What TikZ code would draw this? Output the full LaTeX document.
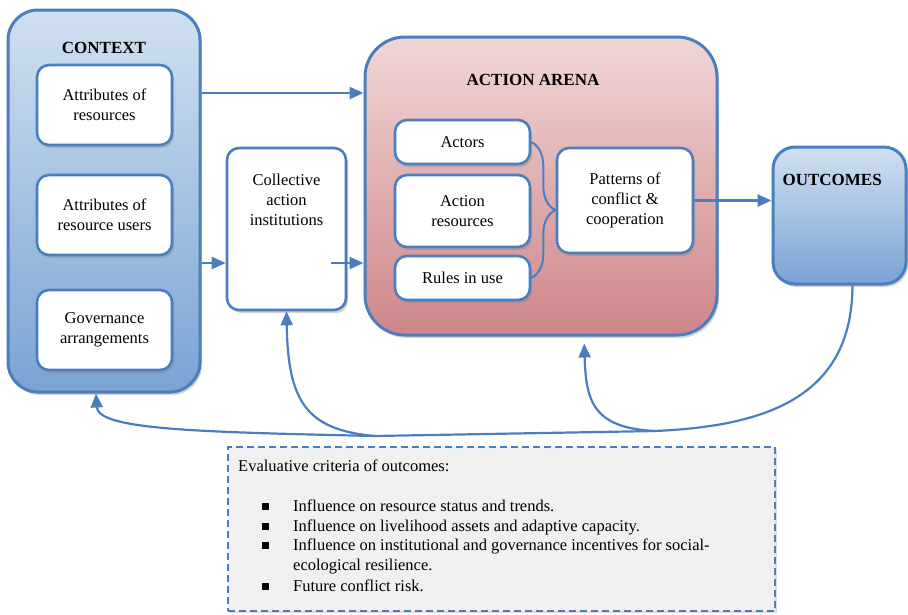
\documentclass[tikz,border=0pt]{standalone}
\usepackage{fontspec}
\setmainfont{Liberation Serif}
\usetikzlibrary{arrows.meta, positioning, shadows, decorations.pathreplacing}

\definecolor{edgeblue}{HTML}{4A7EBF}
\definecolor{ctxtop}{HTML}{D0E0F0}
\definecolor{ctxbot}{HTML}{7AA3D4}
\definecolor{arenatop}{HTML}{F1D6D6}
\definecolor{arenabot}{HTML}{CD868A}
\definecolor{critfill}{HTML}{F0F0F0}

\begin{document}
\begin{tikzpicture}[x=1pt,y=-1pt,
  font=\fontsize{16.5}{20}\selectfont,
  bigbox/.style={draw=edgeblue, line width=3pt, rounded corners=30pt,
    drop shadow={opacity=0.35, shadow xshift=2pt, shadow yshift=-3pt}},
  inbox/.style={draw=edgeblue, line width=2.6pt, fill=white, rounded corners=12pt,
    align=center, minimum width=135pt,
    drop shadow={opacity=0.35, shadow xshift=2pt, shadow yshift=-3pt}},
  heading/.style={font=\fontsize{17}{20}\selectfont\bfseries},
  flow/.style={draw=edgeblue, line width=2.6pt, -{Triangle[length=14pt,width=12pt]}},
  fb/.style={draw=edgeblue, line width=2.2pt},
  fbarrow/.style={fb, -{Triangle[length=14pt,width=12pt]}},
  critbox/.style={draw=edgeblue, line width=1.8pt, dash pattern=on 7pt off 4pt,
    fill=critfill, drop shadow={opacity=0.3, shadow xshift=2pt, shadow yshift=-2pt}}
]
\useasboundingbox (0,0) rectangle (908,614);

% context
\node[bigbox, top color=ctxtop, bottom color=ctxbot,
  minimum width=192pt, minimum height=382pt] (ctx) at (104,201) {};
\node[heading] (ctxlbl) at (104,48) {CONTEXT};
\node[inbox, minimum height=80pt] (res) at (104.5,105) {Attributes of\\resources};
\node[inbox, minimum height=80pt] (users) at (104.5,215) {Attributes of\\resource users};
\node[inbox, minimum height=80pt] (gov) at (104.5,330) {Governance\\arrangements};

% collective action
\node[inbox, minimum width=119pt, minimum height=162pt] (coll) at (286.5,229) {};
\node[align=center] (colltxt) at (286.5,200) {Collective\\action\\institutions};

% action arena
\node[bigbox, rounded corners=40pt, top color=arenatop, bottom color=arenabot,
  minimum width=352pt, minimum height=298pt] (arena) at (541,186) {};
\node[heading] (arenalbl) at (533,80) {ACTION ARENA};
\node[inbox, minimum height=44pt] (actors) at (462.5,142) {Actors};
\node[inbox, minimum height=72pt] (ares) at (462.5,211) {Action\\resources};
\node[inbox, minimum height=44pt] (rules) at (462.5,278) {Rules in use};
\node[inbox, minimum width=136pt, minimum height=105pt] (pat) at (625,200.5)
  {Patterns of\\conflict \&\\cooperation};

% outcomes
\node[bigbox, rounded corners=22pt, top color=ctxtop, bottom color=ctxbot,
  minimum width=133pt, minimum height=137pt] (outc) at (839.5,215.5) {};
\node[heading, anchor=west] (outlbl) at (779,180) {OUTCOMES};

% evaluative criteria
\node[critbox, minimum width=547pt, minimum height=164pt] (crit) at (501.5,529) {};
\node[anchor=north west, inner sep=0pt] (crittxt) at (238,458) {%
  \renewcommand{\arraystretch}{0.98}%
  \begin{tabular}{@{}l@{\hspace{24pt}}l@{}}
  \multicolumn{2}{@{}l}{Evaluative criteria of outcomes:}\\[20pt]
  \hspace*{24pt}\raisebox{1.5pt}{\rule{7pt}{7pt}} & Influence on resource status and trends.\\
  \hspace*{24pt}\raisebox{1.5pt}{\rule{7pt}{7pt}} & Influence on livelihood assets and adaptive capacity.\\
  \hspace*{24pt}\raisebox{1.5pt}{\rule{7pt}{7pt}} & Influence on institutional and governance incentives for social-\\
   & ecological resilience.\\[2pt]
  \hspace*{24pt}\raisebox{1.5pt}{\rule{7pt}{7pt}} & Future conflict risk.
  \end{tabular}};

% flows
\draw[flow] (ctx.east |- 0,93) -- (arena.west |- 0,93);
\draw[flow] (ctx.east |- 0,263) -- (coll.west |- 0,263);
\draw[flow] ([xshift=-16pt]coll.east |- 0,263) -- (arena.west |- 0,263);
\draw[flow] (pat.east) -- (outc.west |- pat.east);
\draw[draw=edgeblue, line width=2pt, decorate,
  decoration={brace, amplitude=24pt}] (actors.east) -- (rules.east);

% feedback
\coordinate (j1) at (655,431);
\coordinate (j2) at (375,436);
\draw[fb] ([xshift=13pt]outc.south) .. controls (852,395) and (770,426) .. (j1) -- (j2);
\draw[fbarrow] (j2) .. controls (200,432) and (98,430) .. ([xshift=-8pt]ctx.south);
\draw[fbarrow, shorten >=7pt] (j1) .. controls (592,428) and (586,400) .. (arena.south -| 584,0);
\draw[fbarrow] (j2) .. controls (305,430) and (288,400) .. (coll.south);
\end{tikzpicture}
\end{document}
